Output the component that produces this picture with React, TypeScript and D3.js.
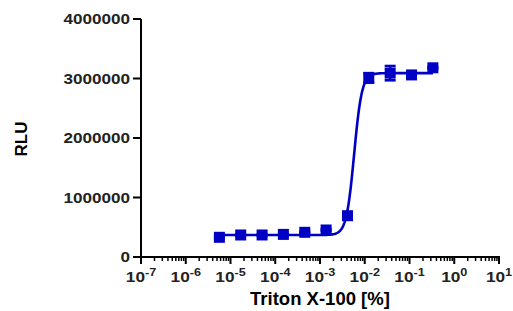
import React from 'react';
import * as d3 from 'd3';

// Triton X-100 concentrations [%] (3-fold dilution series)
const concentrations = [5.65e-6, 1.69e-5, 5.08e-5, 1.52e-4, 4.57e-4, 1.37e-3, 4.12e-3, 1.23e-2, 3.7e-2, 1.11e-1, 3.33e-1];
const rluMean = [331000, 370000, 370000, 380000, 415000, 454000, 694000, 3010000, 3090000, 3060000, 3180000];
const rluErr = [15000, 10000, 10000, 10000, 10000, 15000, 20000, 80000, 120000, 25000, 15000];

// fitted 4PL parameters
const fitBottom = 370000;
const fitTop = 3090000;
const fitLogEC50 = -2.237;
const fitHill = 5;

const xDecades = [-7, -6, -5, -4, -3, -2, -1, 0, 1];
const yTicks = [0, 1000000, 2000000, 3000000, 4000000];

const BLUE = '#0000c4';
const TICK_COLOR = '#222';
const FONT = '"Liberation Sans", Arial, sans-serif';

const margin = { top: 19, right: 14, bottom: 54, left: 141 };
const W = 513;
const H = 311;

const App = () => {
  const innerW = 499 - margin.left;
  const innerH = 257 - margin.top;

  const x = d3.scaleLog().domain([1e-7, 10]).range([0, innerW]);
  const y = d3.scaleLinear().domain([0, 4000000]).range([innerH, 0]);

  const fit = (c: number) =>
    fitBottom + (fitTop - fitBottom) / (1 + Math.pow(10, (fitLogEC50 - Math.log10(c)) * fitHill));

  const lo = Math.log10(concentrations[0]);
  const hi = Math.log10(concentrations[concentrations.length - 1]);
  const curvePts = d3.range(0, 401).map(i => Math.pow(10, lo + (hi - lo) * i / 400));
  const line = d3.line<number>().x(c => x(c)).y(c => y(fit(c)));

  const minorTicks: number[] = [];
  xDecades.slice(0, -1).forEach(d => {
    for (let k = 2; k <= 9; k++) minorTicks.push(k * Math.pow(10, d));
  });

  const sq = 11;
  const cap = 5.5;

  return (
    <svg width={W} height={H} style={{ position: 'absolute', left: 0, top: 0 }}>
      <g transform={`translate(${margin.left},${margin.top})`}>
        {/* y axis */}
        <line x1={0} x2={0} y1={0} y2={innerH + 1} stroke="#000" strokeWidth={2} />
        {yTicks.map(t => (
          <g key={t} transform={`translate(0,${y(t)})`}>
            <line x1={-8} x2={0} stroke="#000" strokeWidth={2} />
            <text dy="0.36em" textAnchor="end" fontFamily={FONT} fontWeight="bold"
              fontSize={15} fill={TICK_COLOR} transform="translate(-11,0) scale(1.14,1)">
              {t}
            </text>
          </g>
        ))}

        {/* x axis */}
        <line x1={-1} x2={innerW + 1} y1={innerH} y2={innerH} stroke="#000" strokeWidth={2} />
        {minorTicks.map((t, i) => (
          <line key={i} x1={x(t)} x2={x(t)} y1={innerH} y2={innerH + 4} stroke="#000" strokeWidth={1.5} />
        ))}
        {xDecades.map(d => (
          <g key={d} transform={`translate(${x(Math.pow(10, d))},${innerH})`}>
            <line y1={0} y2={7} stroke="#000" strokeWidth={2} />
            <text textAnchor="middle" fontFamily={FONT} fontWeight="bold" fontSize={15} fill={TICK_COLOR}
              transform="translate(0,25) scale(1.15,1)">
              10<tspan dy={-6} fontSize={11}>{d}</tspan>
            </text>
          </g>
        ))}

        {/* fitted curve */}
        <path d={line(curvePts) ?? ''} fill="none" stroke={BLUE} strokeWidth={2.6} />

        {/* error bars */}
        {concentrations.map((c, i) => (
          <g key={i} stroke={BLUE} strokeWidth={2.6}>
            <line x1={x(c)} x2={x(c)} y1={y(rluMean[i] - rluErr[i])} y2={y(rluMean[i] + rluErr[i])} />
            <line x1={x(c) - cap} x2={x(c) + cap} y1={y(rluMean[i] - rluErr[i])} y2={y(rluMean[i] - rluErr[i])} />
            <line x1={x(c) - cap} x2={x(c) + cap} y1={y(rluMean[i] + rluErr[i])} y2={y(rluMean[i] + rluErr[i])} />
          </g>
        ))}

        {/* markers */}
        {concentrations.map((c, i) => (
          <rect key={i} x={x(c) - sq / 2} y={y(rluMean[i]) - sq / 2} width={sq} height={sq} fill={BLUE} />
        ))}
      </g>

      <text transform="translate(27,139) rotate(-90)" textAnchor="middle" fontFamily={FONT}
        fontWeight="bold" fontSize={17} fill="#000">RLU</text>
      <text x={320} y={305} textAnchor="middle" fontFamily={FONT} fontWeight="bold" fontSize={18.5} fill="#000">
        Triton X-100 [%]
      </text>
    </svg>
  );
};

export default App;
